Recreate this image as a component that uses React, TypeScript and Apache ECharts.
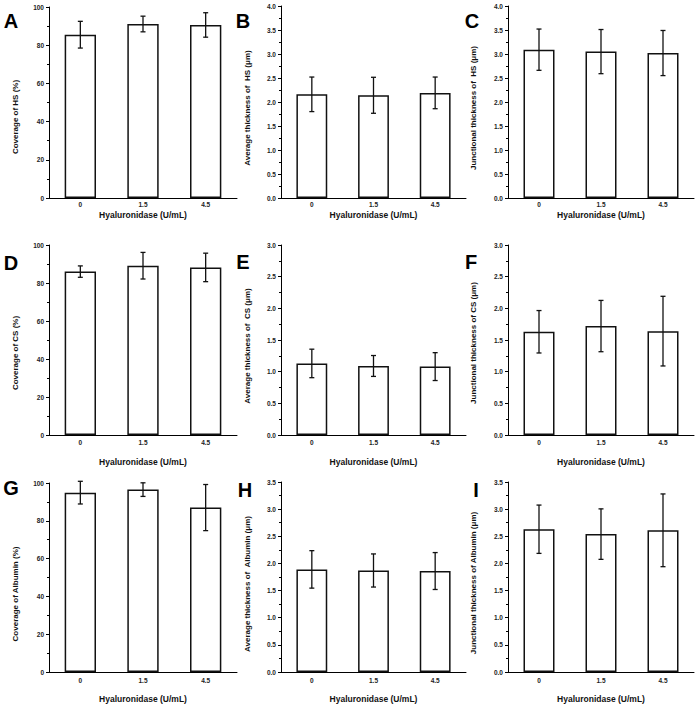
import React, { useEffect, useRef } from "react";
import * as echarts from "echarts";

const categories = ["0", "1.5", "4.5"];

const meansA = [85.5, 91.1, 90.6];
const sdA = [7.0, 4.1, 6.4];
const meansB = [2.16, 2.14, 2.19];
const sdB = [0.36, 0.375, 0.33];
const meansC = [3.09, 3.05, 3.02];
const sdC = [0.43, 0.46, 0.47];
const meansD = [86.0, 89.1, 88.2];
const sdD = [3.0, 7.0, 7.5];
const meansE = [1.13, 1.09, 1.08];
const sdE = [0.225, 0.165, 0.22];
const meansF = [1.63, 1.72, 1.64];
const sdF = [0.335, 0.405, 0.55];
const meansG = [94.9, 96.5, 87.0];
const sdG = [6.0, 3.6, 12.2];
const meansH = [1.89, 1.87, 1.86];
const sdH = [0.345, 0.305, 0.34];
const meansI = [2.63, 2.54, 2.61];
const sdI = [0.445, 0.465, 0.67];

const xTitle = "Hyaluronidase (U/mL)";

const FONT = "'Liberation Sans', Arial, sans-serif";

type Panel = {
  letter: string;
  means: number[];
  sd: number[];
  max: number;
  interval: number;
  decimals: number;
  yTitle: string;
  left: number;
  right: number;
  top: number;
  bottom: number;
  yTitleX: number;
  yTitleY: number;
  letterX: number;
  letterY: number;
  xLabelMargin: number;
  xTitleY: number;
};

const panels: Panel[] = [
  { letter: "A", means: meansA, sd: sdA, max: 100, interval: 20, decimals: 0, yTitle: "Coverage of HS (%)",
    left: 49, right: 237, top: 7, bottom: 198, yTitleX: 15, yTitleY: 117, letterX: 11, letterY: 21, xLabelMargin: 3, xTitleY: 215 },
  { letter: "B", means: meansB, sd: sdB, max: 4, interval: 0.5, decimals: 1, yTitle: "Average thickness of  HS (\u03bcm)",
    left: 281, right: 466, top: 6, bottom: 198, yTitleX: 247, yTitleY: 108, letterX: 243, letterY: 21, xLabelMargin: 3, xTitleY: 215 },
  { letter: "C", means: meansC, sd: sdC, max: 4, interval: 0.5, decimals: 1, yTitle: "Junctional thickness of  HS (\u03bcm)",
    left: 508, right: 694, top: 6, bottom: 198, yTitleX: 473, yTitleY: 108, letterX: 472, letterY: 21, xLabelMargin: 3, xTitleY: 215 },
  { letter: "D", means: meansD, sd: sdD, max: 100, interval: 20, decimals: 0, yTitle: "Coverage of CS (%)",
    left: 49, right: 237, top: 245, bottom: 435, yTitleX: 15, yTitleY: 353, letterX: 11, letterY: 263, xLabelMargin: 3.5, xTitleY: 462 },
  { letter: "E", means: meansE, sd: sdE, max: 3, interval: 0.5, decimals: 1, yTitle: "Average thickness of  CS (\u03bcm)",
    left: 281, right: 466, top: 245, bottom: 435, yTitleX: 247, yTitleY: 346, letterX: 243, letterY: 262, xLabelMargin: 3.5, xTitleY: 462 },
  { letter: "F", means: meansF, sd: sdF, max: 3, interval: 0.5, decimals: 1, yTitle: "Junctional thickness of CS (\u03bcm)",
    left: 508, right: 694, top: 245, bottom: 435, yTitleX: 473, yTitleY: 343, letterX: 471, letterY: 262, xLabelMargin: 3.5, xTitleY: 462 },
  { letter: "G", means: meansG, sd: sdG, max: 100, interval: 20, decimals: 0, yTitle: "Coverage of Albumin (%)",
    left: 49, right: 237, top: 483, bottom: 672, yTitleX: 15, yTitleY: 594, letterX: 11, letterY: 488, xLabelMargin: 5, xTitleY: 699 },
  { letter: "H", means: meansH, sd: sdH, max: 3.5, interval: 0.5, decimals: 1, yTitle: "Average thickness of  Albumin (\u03bcm)",
    left: 281, right: 466, top: 482, bottom: 672, yTitleX: 247, yTitleY: 584, letterX: 245, letterY: 490, xLabelMargin: 5, xTitleY: 699 },
  { letter: "I", means: meansI, sd: sdI, max: 3.5, interval: 0.5, decimals: 1, yTitle: "Junctional thickness of Albumin (\u03bcm)",
    left: 508, right: 694, top: 482, bottom: 672, yTitleX: 473, yTitleY: 583, letterX: 476, letterY: 490, xLabelMargin: 5, xTitleY: 699 },
];

const W = 697;
const H = 706;

function buildOption() {
  const grid: any[] = [];
  const xAxis: any[] = [];
  const yAxis: any[] = [];
  const series: any[] = [];
  const graphic: any[] = [];

  panels.forEach((p, i) => {
    grid.push({
      left: p.left,
      top: p.top,
      width: p.right - p.left,
      height: p.bottom - p.top,
      containLabel: false,
    });
    xAxis.push({
      type: "category",
      gridIndex: i,
      data: categories,
      axisLine: { show: true, lineStyle: { color: "#000", width: 1 } },
      axisTick: { show: false },
      axisLabel: {
        fontSize: 6.5,
        fontWeight: "bold",
        color: "#222",
        fontFamily: FONT,
        margin: p.xLabelMargin,
      },
      splitLine: { show: false },
    });
    yAxis.push({
      type: "value",
      gridIndex: i,
      min: 0,
      max: p.max,
      interval: p.interval,
      axisLine: { show: true, lineStyle: { color: "#000", width: 1 } },
      axisTick: { show: true, length: 3, lineStyle: { color: "#000", width: 1 } },
      minorTick: { show: true, splitNumber: 2, length: 2, lineStyle: { color: "#000", width: 1 } },
      axisLabel: {
        fontSize: 6.5,
        fontWeight: "bold",
        color: "#222",
        fontFamily: FONT,
        margin: 5,
        formatter: (v: number) => v.toFixed(p.decimals),
      },
      splitLine: { show: false },
      minorSplitLine: { show: false },
    });
    series.push({
      type: "bar",
      xAxisIndex: i,
      yAxisIndex: i,
      data: p.means,
      barWidth: "50%",
      itemStyle: { color: "#fff", borderColor: "#111", borderWidth: 1.5 },
      z: 2,
    });
    series.push({
      type: "custom",
      xAxisIndex: i,
      yAxisIndex: i,
      data: p.means.map((m, k) => [k, m, p.sd[k]]),
      encode: { x: 0, y: 1 },
      z: 5,
      renderItem: (params: any, api: any) => {
        const idx = api.value(0);
        const mean = api.value(1);
        const sd = api.value(2);
        const top = api.coord([idx, mean + sd]);
        const bot = api.coord([idx, mean - sd]);
        const hw = 2.5;
        const style = { stroke: "#111", lineWidth: 1.3 };
        return {
          type: "group",
          children: [
            { type: "line", shape: { x1: top[0], y1: top[1], x2: bot[0], y2: bot[1] }, style },
            { type: "line", shape: { x1: top[0] - hw, y1: top[1], x2: top[0] + hw, y2: top[1] }, style },
            { type: "line", shape: { x1: bot[0] - hw, y1: bot[1], x2: bot[0] + hw, y2: bot[1] }, style },
          ],
        };
      },
    });

    graphic.push({
      type: "text",
      x: p.letterX,
      y: p.letterY,
      style: {
        text: p.letter,
        fontSize: 20,
        fontWeight: "bold",
        fontFamily: FONT,
        fill: "#000",
        align: "center",
        verticalAlign: "middle",
      },
    });
    graphic.push({
      type: "text",
      x: p.yTitleX,
      y: p.yTitleY,
      rotation: Math.PI / 2,
      style: {
        text: p.yTitle,
        fontSize: 8,
        fontWeight: "bold",
        fontFamily: FONT,
        fill: "#111",
        align: "center",
        verticalAlign: "middle",
      },
    });
    graphic.push({
      type: "text",
      x: (p.left + p.right) / 2,
      y: p.xTitleY,
      style: {
        text: xTitle,
        fontSize: 8.5,
        fontWeight: "bold",
        fontFamily: FONT,
        fill: "#111",
        align: "center",
        verticalAlign: "middle",
      },
    });
  });

  return {
    animation: false,
    backgroundColor: "#fff",
    grid,
    xAxis,
    yAxis,
    series,
    graphic,
  };
}

export default function App() {
  const ref = useRef<HTMLDivElement>(null);
  useEffect(() => {
    if (!ref.current) return;
    const chart = echarts.init(ref.current, undefined, { renderer: "svg" });
    chart.setOption(buildOption() as any);
    return () => {
      chart.dispose();
    };
  }, []);
  return (
    <div
      ref={ref}
      style={{ position: "fixed", left: 0, top: 0, width: W, height: H, background: "#fff" }}
    />
  );
}
